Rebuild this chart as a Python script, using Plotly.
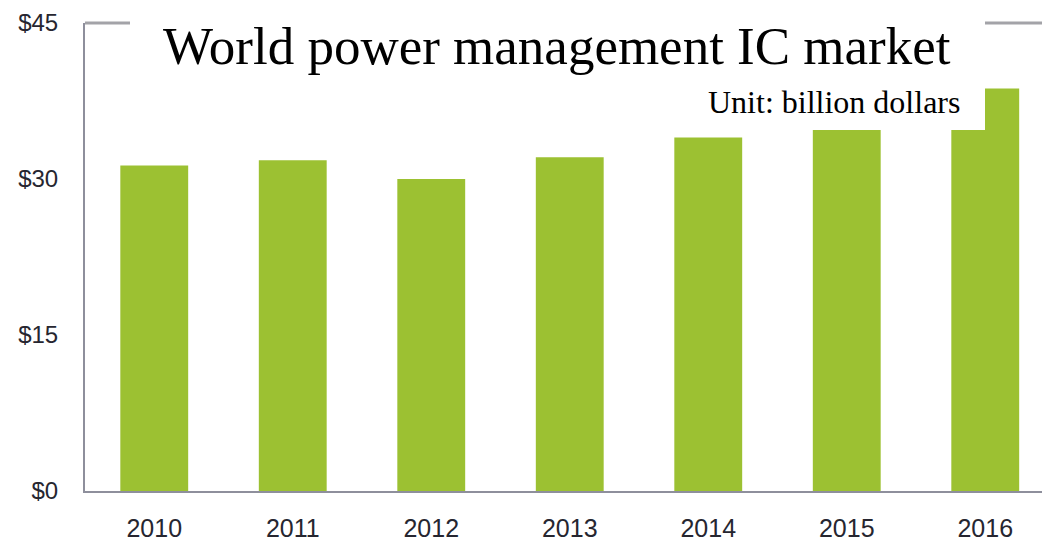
import plotly.graph_objects as go

years = ["2010", "2011", "2012", "2013", "2014", "2015", "2016"]
market_billion_usd = [31.3, 31.8, 30.0, 32.1, 34.0, 36.2, 38.7]
y_tick_values = [0, 15, 30, 45]
y_tick_labels = ["$0", "$15", "$30", "$45"]

title_text = "World power management IC market"
unit_text = "Unit: billion dollars"

W, H = 1042, 542
ml, mr, mt, mb = 85, 0, 23, 51
pw = W - ml - mr
ph = H - mt - mb

def px_x(x):
    return (x - ml) / pw

def px_y(y):
    return (H - mb - y) / ph

fig = go.Figure()
fig.add_trace(go.Bar(
    x=list(range(len(years))),
    y=market_billion_usd,
    width=0.49,
    marker=dict(color="#9cc132", line=dict(width=0)),
    hoverinfo="x+y",
))

fig.update_layout(
    width=W, height=H,
    margin=dict(l=ml, r=mr, t=mt, b=mb),
    paper_bgcolor="white",
    plot_bgcolor="white",
    showlegend=False,
    xaxis=dict(
        range=[-0.5, -0.5 + pw / 138.5],
        tickmode="array",
        tickvals=list(range(len(years))),
        ticktext=years,
        showgrid=False,
        zeroline=False,
        showline=True,
        linecolor="#8e8f9c",
        linewidth=2,
        ticks="",
        ticklabelstandoff=14,
        tickfont=dict(family="Liberation Sans, Arial, sans-serif", size=25, color="#262630"),
    ),
    yaxis=dict(
        range=[0, 45],
        tickmode="array",
        tickvals=y_tick_values,
        ticktext=y_tick_labels,
        showgrid=False,
        zeroline=False,
        showline=True,
        linecolor="#8e8f9c",
        linewidth=2,
        ticks="",
        ticklabelstandoff=20,
        tickfont=dict(family="Liberation Sans, Arial, sans-serif", size=24, color="#262630"),
    ),
    shapes=[
        dict(type="line", xref="paper", yref="paper", x0=0, x1=1, y0=1, y1=1,
             line=dict(color="#a3a3a8", width=3), layer="above"),
        dict(type="rect", xref="paper", yref="paper",
             x0=px_x(130), x1=px_x(985), y0=px_y(130), y1=px_y(-5),
             fillcolor="white", line=dict(width=0), layer="above"),
    ],
    annotations=[
        dict(text=title_text, xref="paper", yref="paper",
             x=px_x(557), y=px_y(46), xanchor="center", yanchor="middle",
             showarrow=False,
             font=dict(family="Liberation Serif, Times New Roman, serif", size=53, color="black")),
        dict(text=unit_text, xref="paper", yref="paper",
             x=px_x(962), y=px_y(102), xanchor="right", yanchor="middle",
             showarrow=False,
             font=dict(family="Liberation Serif, Times New Roman, serif", size=32, color="black")),
    ],
)

fig.write_html("out.html", config={"displayModeBar": False},
               post_script="document.body.style.margin='0';document.body.style.overflow='hidden';")
